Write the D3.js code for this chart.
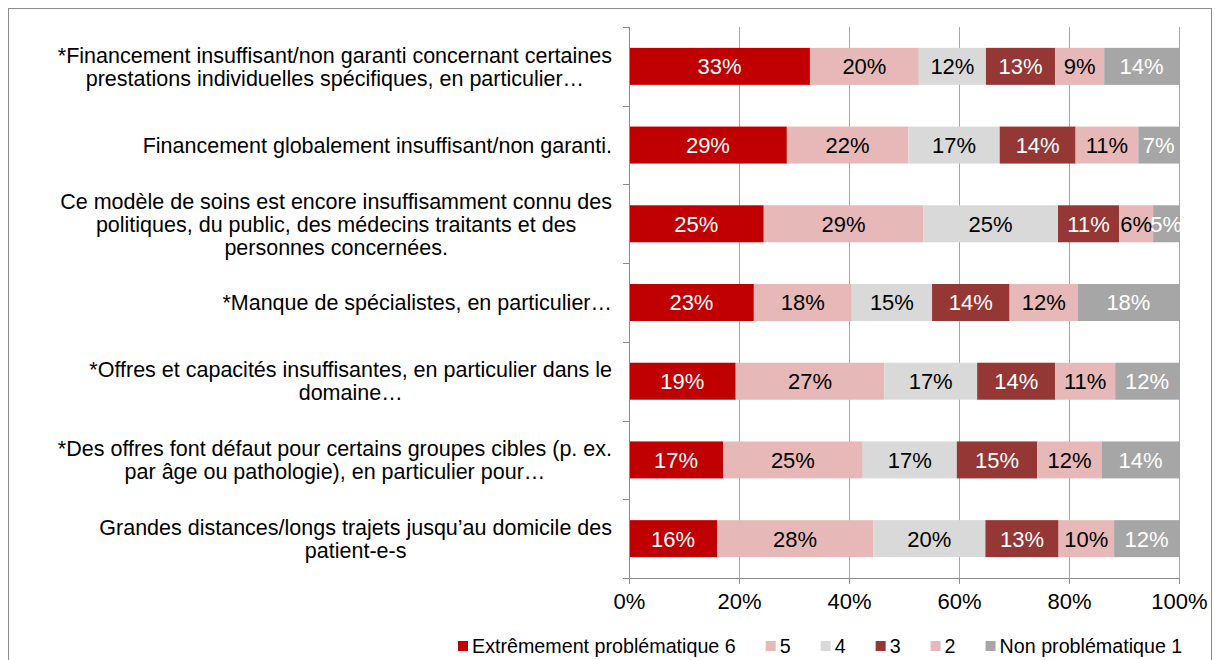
<!DOCTYPE html>
<html>
<head>
<meta charset="utf-8">
<script src="https://cdn.jsdelivr.net/npm/d3@7"></script>
<style>
  body { margin: 0; background: #fff; }
  svg { font-family: "Liberation Sans", Arial, sans-serif; }
</style>
</head>
<body>
<div class="chart"></div>
<script>
// categories, each one split into its display lines
var categories = [
  ["*Financement insuffisant/non garanti concernant certaines", "prestations individuelles spécifiques, en particulier…"],
  ["Financement globalement insuffisant/non garanti."],
  ["Ce modèle de soins est encore insuffisamment connu des", "politiques, du public, des médecins traitants et des", "personnes concernées."],
  ["*Manque de spécialistes, en particulier…"],
  ["*Offres et capacités insuffisantes, en particulier dans le", "domaine…"],
  ["*Des offres font défaut pour certains groupes cibles (p. ex.", "par âge ou pathologie), en particulier pour…"],
  ["Grandes distances/longs trajets jusqu’au domicile des", "patient-e-s"]
];

var seriesNames = ["Extrêmement problématique 6", "5", "4", "3", "2", "Non problématique 1"];
var seriesColors = ["#C00000", "#E6B9B8", "#D9D9D9", "#953735", "#E6B9B8", "#A6A6A6"];
var labelColors = ["#fff", "#000", "#000", "#fff", "#000", "#fff"];

// shares per category (%), in series order
var s6 = [32.9, 28.7, 24.5, 22.7, 19.4, 17.1, 16.0];
var s5 = [19.8, 22.1, 29.0, 17.8, 27.0, 25.4, 28.4];
var s4 = [12.2, 16.6, 24.5, 14.6, 16.9, 17.1, 20.4];
var s3 = [12.6, 13.8, 11.1, 14.1, 14.2, 14.6, 13.3];
var s2 = [8.9, 11.4, 6.2, 12.4, 10.9, 11.8, 10.1];
var s1 = [13.6, 7.4, 4.7, 18.4, 11.6, 14.0, 11.8];
var allSeries = [s6, s5, s4, s3, s2, s1];

var xTicks = [0, 20, 40, 60, 80, 100];

var svgWidth = 1215, svgHeight = 660;
var margin = { top: 27, left: 629, right: 36, bottom: 82 };
var width = svgWidth - margin.left - margin.right;
var height = svgHeight - margin.top - margin.bottom;

var svg = d3.select(".chart").append("svg")
  .attr("width", svgWidth)
  .attr("height", svgHeight);

// outer frame
svg.append("rect")
  .attr("x", 8.5).attr("y", 8.5)
  .attr("width", 1203).attr("height", 700)
  .attr("fill", "none")
  .attr("stroke", "#8c8c8c")
  .attr("stroke-width", 1);

var chartGroup = svg.append("g")
  .attr("transform", `translate(${margin.left}, ${margin.top})`);

var idx = d3.range(categories.length);

var xScale = d3.scaleLinear().domain([0, 100]).range([0, width]);
var yScale = d3.scaleBand().domain(idx)
  .range([0, height])
  .paddingInner(0.53)
  .paddingOuter(0.265);

// gridlines
chartGroup.selectAll(".grid")
  .data(xTicks.slice(1))
  .enter().append("line")
  .attr("x1", d => Math.round(xScale(d)) + 0.5)
  .attr("x2", d => Math.round(xScale(d)) + 0.5)
  .attr("y1", 0).attr("y2", height)
  .attr("stroke", "#a6a6a6");

// stack the series
var stacked = idx.map(function(i) {
  var x0 = 0;
  return allSeries.map(function(s, k) {
    var seg = { cat: i, k: k, v: s[i], x0: x0, x1: x0 + s[i] };
    x0 += s[i];
    return seg;
  });
});

var segs = [].concat.apply([], stacked);

chartGroup.selectAll(".seg")
  .data(segs)
  .enter().append("rect")
  .attr("x", d => xScale(d.x0))
  .attr("width", d => xScale(d.x1) - xScale(d.x0))
  .attr("y", d => yScale(d.cat))
  .attr("height", yScale.bandwidth())
  .attr("fill", d => seriesColors[d.k]);

chartGroup.selectAll(".lbl")
  .data(segs)
  .enter().append("text")
  .attr("x", d => xScale((d.x0 + d.x1) / 2))
  .attr("y", d => yScale(d.cat) + yScale.bandwidth() / 2)
  .attr("dy", "0.36em")
  .attr("text-anchor", "middle")
  .attr("font-size", 22)
  .attr("fill", d => labelColors[d.k])
  .text(d => Math.round(d.v) + "%");

// x axis
var xAxis = d3.axisBottom(xScale).tickValues(xTicks).tickSize(6).tickFormat(d => d + "%");
var xg = chartGroup.append("g")
  .attr("transform", `translate(0, ${height})`)
  .call(xAxis);
xg.selectAll("text").attr("font-size", 22).attr("fill", "#000").attr("dy", "1.0em");
xg.selectAll("line,path").attr("stroke", "#8c8c8c");
xg.select(".domain").attr("d", `M0,0.5H${width}`);

// y axis line with ticks between categories
var yg = chartGroup.append("g");
yg.append("line")
  .attr("x1", 0.5).attr("x2", 0.5)
  .attr("y1", 0).attr("y2", height + 6)
  .attr("stroke", "#8c8c8c");
var step = yScale.step();
yg.selectAll(".ytick")
  .data(d3.range(categories.length + 1))
  .enter().append("line")
  .attr("x1", -6).attr("x2", 0)
  .attr("y1", d => Math.round(d * step) + 0.5)
  .attr("y2", d => Math.round(d * step) + 0.5)
  .attr("stroke", "#8c8c8c");

// category labels: block right aligned, lines centred
var lineH = 23;
var labelRight = -17;
categories.forEach(function(lines, i) {
  var g = chartGroup.append("g");
  var cy = yScale(i) + yScale.bandwidth() / 2;
  var texts = lines.map(function(line, j) {
    return g.append("text")
      .attr("y", cy + (j - (lines.length - 1) / 2) * lineH)
      .attr("dy", "0.36em")
      .attr("font-size", 21.5)
      .attr("fill", "#000")
      .attr("text-anchor", "middle")
      .text(line);
  });
  var maxW = d3.max(texts, t => t.node().getComputedTextLength());
  texts.forEach(t => t.attr("x", labelRight - maxW / 2));
});

// legend
var legend = svg.append("g").attr("transform", "translate(458, 641)");
var lx = 0;
seriesNames.forEach(function(name, k) {
  legend.append("rect")
    .attr("x", lx).attr("y", 0)
    .attr("width", 10).attr("height", 10)
    .attr("fill", seriesColors[k]);
  var t = legend.append("text")
    .attr("x", lx + 14).attr("y", 5)
    .attr("dy", "0.36em")
    .attr("font-size", 19.7)
    .attr("fill", "#000")
    .text(name);
  lx += 14 + t.node().getComputedTextLength() + 30;
});
</script>
</body>
</html>
